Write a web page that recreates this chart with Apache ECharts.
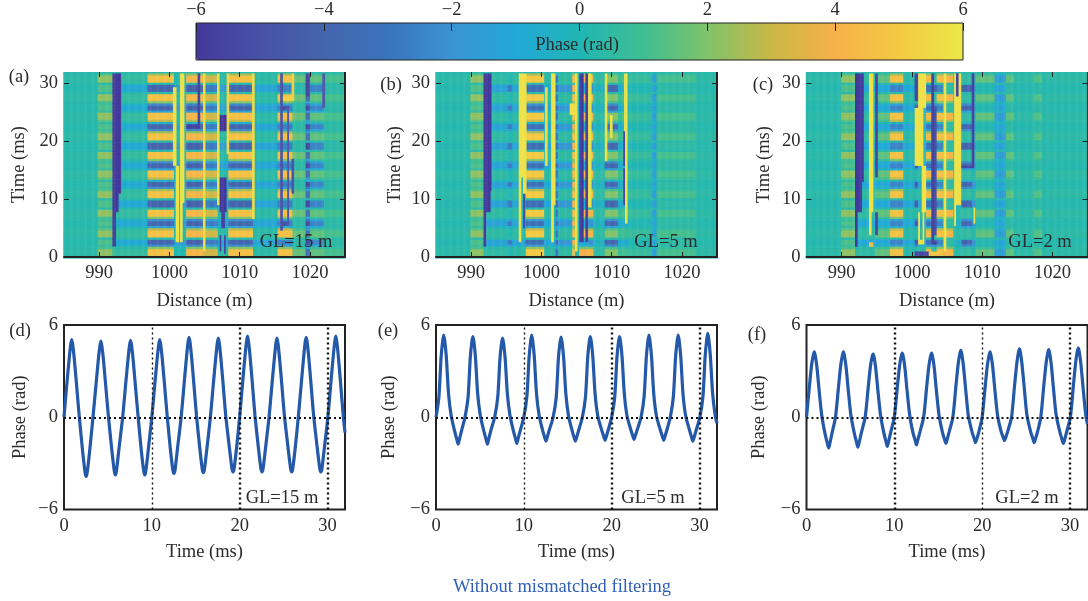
<!DOCTYPE html>
<html><head><meta charset="utf-8">
<style>html,body{margin:0;padding:0;background:#fff}#c{width:1088px;height:601px}#c canvas{filter:blur(.5px)}</style>
<script src="https://cdn.jsdelivr.net/npm/echarts@6/dist/echarts.min.js"></script>
</head><body><div id="c"></div>
<script>
// ---------- values ----------
const phaseColors = ['#43399b','#4851a6','#4465ae','#3a74bb','#3b93d2','#22a8d8','#20b6b4','#3fbe92','#80c36a','#c9b846','#f8b04a','#f3c942','#ece84a'];

// relative strength of every time row (0, 0.4, ... 32 ms): bright bars +, dark bars -
const rowLevel = [0,1,1,1,.4,-.6,-1,-1,0,1,1,1,.6,-.4,-1,-1,-.6,.4,1,1,1,0,-1,-1,-1,0,1,1,1,.5,-.6,-1,-1,-.2,.6,1,1,1,-.4,-1,-1,-.6,.4,1,1,1,0,-1,-1,-1,0,1,1,1,.5,-.6,-1,-1,-.2,.6,1,1,1,-.4,-1,-1,-.6,.4,1,1,1,0,-1,-1,-1,0,1,1,1,.5,0];

// [from m, to m, value in bright rows, value in dark rows]
const colsA = [[985,989.8,.35,.2],[989.8,992,2.2,1.2],[992,997,.6,-.9],[997,1000.7,4.7,-4],[1000.7,1002.5,.1,-1.6],[1002.5,1004.8,4.2,-4.2],[1004.8,1007,3.2,-2.8],[1007,1008.5,.4,-1.5],[1008.5,1012,4.7,-4],[1012,1015.5,.4,-1.2],[1015.5,1017.6,4.6,-2.6],[1017.6,1019.5,1.6,.4],[1019.5,1020.1,-3.4,-5.4],[1020.1,1022.1,1.5,-2.5],[1022.1,1025,1.1,.4]];
const stripesA = [[992,993.2,11,32,-6],[992,992.8,8,11,-6],[992,992.4,2,8,-6],
 [1000.6,1001.1,16,29.3,5.8],[1001,1001.4,2.5,16,5.8],[1001.6,1002.2,9.5,32,5.8],[1001.6,1002,2.5,9.5,5.8],
 [1004.1,1004.5,22.8,32,-5.6],[1002.4,1004.5,22.4,23.2,-5.6],[1004.8,1005.2,1,32,5.6],[1006.8,1007.2,9,32,5.8],
 [1007.2,1008.2,21.8,24.6,-6],[1007.2,1008.2,8,14,-6],[1007.4,1008,5,8,-6],[1007.2,1007.5,1,4,-5.5],[1007.8,1008.1,.8,4,-5.5],
 [1008.2,1008.6,18,32,5.4],[1011.85,1012.25,6.5,32,5.6],
 [1015.85,1016.2,4.8,32,-5],[1016.2,1017.1,25.5,26.2,-5],[1016.8,1017.1,5.8,26,-5],[1016.2,1017.1,5.6,6.2,-5],
 [1017.5,1017.85,27.4,32,5.2],[1016.2,1017.8,27,28,5.2],[1017.5,1017.85,11,17,-5],
 [1019.5,1020.1,28,32,-5.5],[1021.8,1022.15,26,32,-5]];

const colsB = [[985,990,.35,.15],[990,991.8,2.2,1.2],[991.8,995.2,.5,-1.3],[995.2,995.8,0,-2.8],[995.8,997.8,.4,-1.2],[997.8,1000.5,5,-3.4],[1000.5,1001.5,.4,-1],[1001.5,1002.1,.4,-1],[1002.1,1002.5,-3,-3.6],[1002.5,1004.4,.5,-1.8],[1004.4,1004.8,4.5,4],[1004.8,1005.5,.4,-1],[1005.5,1006.7,4,-1],[1006.7,1007.5,4.2,-2],[1007.5,1009.1,.5,-.4],[1009.1,1010.9,2,-4],[1010.9,1012.4,1,-.8],[1012.4,1015.7,.7,0],[1015.7,1016.5,-1.4,-1.4],[1016.5,1022,1.1,.45],[1022,1025,.4,.2]];
const stripesB = [[991.8,993,11.5,32,-6],[991.8,992.8,8,11.5,-6],[991.8,992.2,2,8,-6],
 [996.8,997.9,14,32,5.8],[996.8,997.2,2.7,14,5.8],[997.4,997.9,11,14,5.8],[997.4,997.7,5,11,-5.5],
 [1000.6,1000.9,16,29.3,5.6],[1001.5,1002.1,9,32,5.8],[1001.5,1001.85,2.7,9,5.8],
 [1004.1,1005.1,24.5,26.5,5.6],[1004.8,1005.15,1,32,5.8],[1005.5,1006.05,2.5,32,-6],[1006.3,1006.65,2.5,32,-6],[1006.7,1007.15,8.8,32,5.8],
 [1009.1,1009.5,16.5,32,5.8],[1009.8,1010.15,20.5,24.5,5.8],
 [1011.8,1012.35,22,32,5.8],[1012,1012.35,6,22,5.8],[1011.7,1012,16,22,-5.6],[1011.7,1012,9,15.5,-5.6]];

const colsC = [[985,990,.35,.15],[990,991.9,2.2,1.2],[991.9,993.9,.5,-1],[993.9,994.8,.5,-1],[994.8,996.9,1.5,-1],[996.9,998.8,4.7,-2.5],[998.8,1000.5,.3,-1],[1000.5,1001,.3,-4.5],[1001,1002.1,.5,-1],[1002.1,1002.8,4.4,-3],[1002.8,1003.6,.5,-4],[1003.6,1004.4,4.6,-2.6],[1004.4,1006,4.2,.6],[1006,1007.1,.4,-.5],[1007.1,1008.6,.6,-4],[1008.6,1009.2,.3,-2],[1009.2,1011.8,1.5,.1],[1011.8,1013.4,-1.5,-1.2],[1013.4,1014.6,1.5,.4],[1014.6,1017.4,.45,.15],[1017.4,1018.6,1.3,.4],[1018.6,1025,.4,.2]];
const stripesC = [[991.9,993.2,13,32,-6],[991.9,992.9,8,13,-6],[991.9,992.3,2,8,-6],
 [993.9,994.6,8,32,5.8],[993.9,994.3,4,8,5.8],[993.9,994.6,2,2.8,4.6],
 [994.8,995.2,14,32,-5.6],[994.8,995.2,4,8,-5.6],
 [1000.5,1000.9,27,32,-5.5],[1000.9,1002.1,26,32,5.8],[1000.5,1001.7,16,26,5.8],[1001.4,1002.1,8,16,5.8],[1000.9,1001.15,2.5,8,5.8],[1001.55,1001.8,2.5,8,5.8],[1000.9,1001.8,2.4,2.9,5.8],
 [1002.8,1003.2,2.5,32,-6],[1003.2,1003.6,4,26,-5],[1002.8,1003.6,2.3,2.8,-6],
 [1004.6,1005,1,32,5.8],[1006.05,1007.1,9,32,5.8],[1006.3,1006.7,24.5,28,5.8],[1006.3,1006.7,28,32,-5.6],[1006.05,1006.3,5.5,9,5.8],
 [1008.6,1009,15.5,32,-5.5],[1007.1,1009,15.5,16,-5.5],[1008.8,1009.1,6,8.8,5.6],
 [1000.5,1002.5,.3,1.2,-5.5],[1002.5,1004.4,.3,1.2,4.8]];

// line panels: shared time points (ms) and phase values (rad)
const timeMs = [0,.33,.58,.76,.88,1,1.18,1.43,1.73,2.12,2.4,2.52,2.64,2.92,
 3.3,3.65,3.9,4.08,4.2,4.32,4.5,4.75,5.05,5.45,5.73,5.85,5.97,6.25,
 6.68,7.03,7.28,7.46,7.58,7.7,7.88,8.13,8.43,8.8,9.08,9.2,9.32,9.6,
 10,10.35,10.6,10.78,10.9,11.02,11.2,11.45,11.75,12.12,12.4,12.52,12.64,12.92,
 13.34,13.69,13.94,14.12,14.24,14.36,14.54,14.79,15.09,15.47,15.75,15.87,15.99,16.27,
 16.67,17.02,17.27,17.45,17.57,17.69,17.87,18.12,18.42,18.85,19.13,19.25,19.37,19.65,
 20,20.35,20.6,20.78,20.9,21.02,21.2,21.45,21.75,22.15,22.43,22.55,22.67,22.95,
 23.35,23.7,23.95,24.13,24.25,24.37,24.55,24.8,25.1,25.53,25.81,25.93,26.05,26.33,
 26.68,27.03,27.28,27.46,27.58,27.7,27.88,28.13,28.43,28.85,29.13,29.25,29.37,29.65,
 30.05,30.4,30.65,30.83,30.95,31.07,31.25,31.5,31.8,32];
const phaseD = [0,2.2,3.75,4.7,5.05,4.7,3.75,2.1,.1,-2.2,-3.6,-3.85,-3.6,-2.2,
 0,2.15,3.7,4.6,4.95,4.6,3.7,2.05,.1,-2.15,-3.5,-3.75,-3.5,-2.1,
 0,2.2,3.7,4.65,5,4.65,3.7,2.05,.1,-2.15,-3.5,-3.75,-3.5,-2.1,
 0,2.2,3.75,4.7,5.05,4.7,3.75,2.1,.1,-2.1,-3.45,-3.65,-3.45,-2.05,
 0,2.25,3.85,4.85,5.2,4.85,3.85,2.15,.1,-2.05,-3.4,-3.6,-3.4,-2.05,
 0,2.25,3.8,4.8,5.15,4.8,3.8,2.15,.1,-2.05,-3.35,-3.55,-3.35,-2,
 0,2.3,3.9,4.9,5.27,4.9,3.9,2.2,.1,-2.05,-3.35,-3.55,-3.35,-2,
 0,2.25,3.8,4.8,5.15,4.8,3.8,2.15,.1,-2.05,-3.35,-3.55,-3.35,-2,
 0,2.25,3.85,4.85,5.2,4.85,3.85,2.15,.1,-2.05,-3.35,-3.55,-3.35,-2,
 0,2.3,3.9,4.9,5.27,4.9,3.9,2.2,.1,-1];
const phaseE = [0,1.3,3.9,4.95,5.35,4.95,3.9,1.5,.1,-.9,-1.5,-1.75,-1.5,-.85,
 0,1.3,3.85,4.9,5.25,4.9,3.85,1.5,.1,-.9,-1.5,-1.75,-1.5,-.85,
 0,1.3,3.8,4.8,5.15,4.8,3.8,1.5,.1,-.85,-1.45,-1.7,-1.45,-.85,
 0,1.35,3.9,4.95,5.35,4.95,3.9,1.5,.1,-.8,-1.35,-1.55,-1.35,-.8,
 0,1.3,3.85,4.85,5.22,4.85,3.85,1.5,.1,-.8,-1.35,-1.55,-1.35,-.8,
 0,1.3,3.85,4.9,5.25,4.9,3.85,1.5,.1,-.8,-1.3,-1.5,-1.3,-.75,
 0,1.3,3.85,4.9,5.25,4.9,3.85,1.5,.1,-.75,-1.25,-1.45,-1.25,-.75,
 0,1.35,3.9,4.95,5.35,4.95,3.9,1.5,.1,-.8,-1.3,-1.5,-1.3,-.75,
 0,1.35,3.9,4.95,5.35,4.95,3.9,1.5,.1,-.8,-1.35,-1.55,-1.35,-.8,
 0,1.35,3.95,5.05,5.45,5.05,3.95,1.55,.1,-.4];
const phaseF = [0,2,3.4,4,4.25,4,3.3,1.8,.15,-1.1,-1.75,-2,-1.75,-1,
 0,2,3.4,4,4.25,4,3.3,1.8,.15,-1.05,-1.7,-1.95,-1.7,-1,
 0,1.95,3.3,3.9,4.1,3.9,3.2,1.75,.15,-1,-1.65,-1.9,-1.65,-.95,
 0,2,3.35,3.95,4.18,3.95,3.25,1.75,.15,-1,-1.55,-1.8,-1.55,-.95,
 0,2,3.35,3.95,4.18,3.95,3.25,1.75,.15,-.95,-1.5,-1.7,-1.5,-.9,
 0,2.05,3.45,4.1,4.35,4.1,3.35,1.85,.15,-.95,-1.45,-1.65,-1.45,-.9,
 0,2,3.4,4,4.25,4,3.3,1.8,.15,-.9,-1.35,-1.53,-1.35,-.85,
 0,2.1,3.5,4.2,4.45,4.2,3.4,1.9,.15,-.95,-1.45,-1.65,-1.45,-.9,
 0,2.1,3.5,4.15,4.4,4.15,3.4,1.85,.15,-.95,-1.5,-1.7,-1.5,-.9,
 0,2.1,3.55,4.25,4.5,4.25,3.45,1.9,.15,-.45];

const panelTitles = ['(a)','(b)','(c)','(d)','(e)','(f)'];
const gaugeLabels = ['GL=15 m','GL=5 m','GL=2 m'];
const thickDots = [[20,30],[20,30],[10,30]];
const thinDots = [[10],[10],[20]];
const footerText = 'Without mismatched filtering';

// ---------- chart ----------
const FONT = '"Liberation Serif","Times New Roman",serif', INK = '#2b2b2b', LINE = '#222', FS = 18.5;
const colStep = 0.125, rowStep = 0.4;
const xCats = [], yCats = [];
for (let i = 0; i <= 320; i++) xCats.push(String(985 + i * colStep));
for (let j = 0; j <= 80; j++) yCats.push(String(Math.round(j * rowStep * 10) / 10));

function buildCells(cols, stripes) {
  const out = [];
  xCats.forEach((xs, i) => {
    const x = +xs;
    let seg = [0, 0, .3, .2];
    cols.forEach(c => { if (x >= c[0] && x < c[1]) seg = c; });
    yCats.forEach((ts, j) => {
      const t = +ts, l = rowLevel[j];
      let v = l >= 0 ? .25 + l * (seg[2] - .25) : .25 + (-l) * (seg[3] - .25);
      stripes.forEach(s => { if (x >= s[0] && x < s[1] && t >= s[2] && t < s[3]) v = s[4]; });
      out.push([i, j, v]);
    });
  });
  return out;
}

const lefts = [64, 436, 806.5], widths = [281, 281, 281];
const timeGaps = [35, 31, 33], phaseGaps = [34, 37, 38];
const grids = [], xAxes = [], yAxes = [], series = [], graphics = [];
const labelStyle = { color: INK, fontFamily: FONT, fontSize: FS };
const nameStyle = { color: INK, fontFamily: FONT, fontSize: FS };
const isDecade = (i, v) => +v % 10 === 0;
const minus = v => String(v).replace('-', '\u2212');

[[colsA, stripesA], [colsB, stripesB], [colsC, stripesC]].forEach((p, k) => {
  const g = grids.length;
  grids.push({ left: lefts[k], width: widths[k], top: 72, height: 185 });
  const tick = { show: true, inside: true, length: 5, interval: isDecade, lineStyle: { color: LINE, width: 1 } };
  xAxes.push({ type: 'category', gridIndex: g, data: xCats, boundaryGap: false, position: 'bottom', z: 5,
    axisLine: { show: true, onZero: false, lineStyle: { color: LINE, width: 2 } }, axisTick: tick,
    axisLabel: Object.assign({ interval: isDecade, margin: 7 }, labelStyle), splitLine: { show: false },
    name: 'Distance (m)', nameLocation: 'middle', nameGap: 35, nameTextStyle: nameStyle });
  xAxes.push({ type: 'category', gridIndex: g, data: xCats, boundaryGap: false, position: 'top', z: 5,
    axisLine: { show: false, onZero: false }, axisTick: tick, axisLabel: { show: false }, splitLine: { show: false } });
  yAxes.push({ type: 'category', gridIndex: g, data: yCats, boundaryGap: false, position: 'left', z: 5,
    axisLine: { show: false, onZero: false }, axisTick: tick,
    axisLabel: Object.assign({ interval: isDecade, margin: 6 }, labelStyle), splitLine: { show: false },
    name: 'Time (ms)', nameLocation: 'middle', nameGap: timeGaps[k], nameTextStyle: nameStyle });
  yAxes.push({ type: 'category', gridIndex: g, data: yCats, boundaryGap: false, position: 'right', z: 5,
    axisLine: { show: true, onZero: false, lineStyle: { color: LINE, width: 2 } }, axisTick: tick, axisLabel: { show: false }, splitLine: { show: false } });
  series.push({ type: 'heatmap', xAxisIndex: xAxes.length - 2, yAxisIndex: yAxes.length - 2,
    data: buildCells(p[0], p[1]), progressive: 0, silent: true });
  graphics.push({ type: 'rect', z: 19, silent: true, shape: { x: lefts[k] - 3, y: 68, width: widths[k] + 6, height: 4 }, style: { fill: '#fff' } });
});

[phaseD, phaseE, phaseF].forEach((vals, k) => {
  const g = grids.length;
  grids.push({ left: lefts[k], width: widths[k], top: 325, height: 184.5, show: true, borderColor: LINE, borderWidth: 2, backgroundColor: 'transparent' });
  xAxes.push({ type: 'value', gridIndex: g, min: 0, max: 32, interval: 10, splitLine: { show: false },
    axisLine: { show: false }, axisTick: { show: false },
    axisLabel: Object.assign({ margin: 7, showMaxLabel: false, formatter: v => v === 32 ? '' : v }, labelStyle),
    name: 'Time (ms)', nameLocation: 'middle', nameGap: 33, nameTextStyle: nameStyle });
  yAxes.push({ type: 'value', gridIndex: g, min: -6, max: 6, interval: 6, splitLine: { show: false },
    axisLine: { show: false }, axisTick: { show: false },
    axisLabel: Object.assign({ margin: 6, formatter: minus }, labelStyle),
    name: 'Phase (rad)', nameLocation: 'middle', nameGap: phaseGaps[k], nameTextStyle: nameStyle });
  const dot = w => ({ color: '#111', width: w, type: [2, 3], opacity: 1 });
  const marks = [{ yAxis: 0, lineStyle: dot(2) }];
  thickDots[k].forEach(t => marks.push({ xAxis: t, lineStyle: dot(2.4) }));
  thinDots[k].forEach(t => marks.push({ xAxis: t, lineStyle: dot(1.4) }));
  series.push({ type: 'line', xAxisIndex: xAxes.length - 1, yAxisIndex: yAxes.length - 1,
    data: vals.map((v, i) => [timeMs[i], v]), showSymbol: false, smooth: .25, clip: true, silent: true,
    lineStyle: { color: '#2458a9', width: 3.2 },
    markLine: { silent: true, symbol: 'none', label: { show: false }, animation: false, data: marks } });
});

// colour bar: visual map plus an axis for its ticks
const cbGrid = grids.length;
grids.push({ left: 196, width: 767, top: 23, height: 37, show: true, borderColor: LINE, borderWidth: 1, backgroundColor: 'transparent', z: 6 });
xAxes.push({ type: 'value', gridIndex: cbGrid, position: 'top', min: -6, max: 6, interval: 2, z: 6,
  axisLine: { show: false, onZero: false }, splitLine: { show: false },
  axisTick: { show: true, inside: true, length: 8, lineStyle: { color: LINE, width: 1 } },
  axisLabel: Object.assign({ margin: 3, formatter: minus }, labelStyle) });
yAxes.push({ type: 'value', gridIndex: cbGrid, min: 0, max: 1, show: false });
series.push({ type: 'line', xAxisIndex: xAxes.length - 1, yAxisIndex: yAxes.length - 1, data: [], silent: true });

const txt = (x, y, text, extra) => ({ type: 'text', x, y, z: 20, silent: true,
  style: Object.assign({ text, fill: INK, font: FS + 'px ' + FONT, textAlign: 'center', textVerticalAlign: 'middle' }, extra || {}) });
graphics.push(txt(577, 45, 'Phase (rad)'));
[[19, 77], [391, 85], [763, 85], [20, 331], [388, 331], [757, 335]].forEach((p, i) => graphics.push(txt(p[0], p[1], panelTitles[i])));
[[296, 242], [666, 242], [1040, 242], [282, 498], [653, 498], [1027, 498]].forEach((p, i) => graphics.push(txt(p[0], p[1], gaugeLabels[i % 3])));
graphics.push(txt(562, 587, footerText, { fill: '#2f5fb3' }));

const chart = echarts.init(document.getElementById('c'), null, { renderer: 'canvas' });
chart.setOption({
  animation: false, backgroundColor: '#fff', tooltip: { show: false },
  grid: grids, xAxis: xAxes, yAxis: yAxes, series,
  visualMap: { type: 'continuous', show: true, seriesIndex: [0, 1, 2], dimension: 2, min: -6, max: 6,
    orient: 'horizontal', left: 196, top: 23, itemWidth: 37, itemHeight: 767, padding: 0, calculable: false, realtime: false,
    text: null, showLabel: false, hoverLink: false, inRange: { color: phaseColors }, textStyle: { color: 'rgba(0,0,0,0)', fontSize: 1 } },
  graphic: { elements: graphics }
});
</script></body></html>
